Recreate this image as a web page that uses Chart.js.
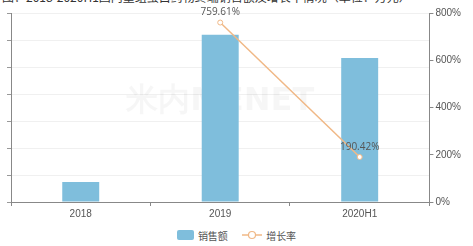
<!DOCTYPE html>
<html>
<head>
<meta charset="utf-8">
<script src="https://cdn.jsdelivr.net/npm/chart.js@4.4.1/dist/chart.umd.min.js"></script>
<style>
    html, body { margin: 0; padding: 0; background: #fff; }
    body { width: 473px; height: 246px; position: relative; overflow: hidden; font-family: "Noto Sans CJK SC", "Noto Sans", sans-serif; }
    #titulo { position: absolute; left: 2px; top: -12px; font-size: 12px; color: #333; white-space: nowrap; }
    #box { position: absolute; left: 0; top: 0; width: 473px; height: 222px; }
    #legenda { position: absolute; top: 226px; left: 0; width: 473px; text-align: center; font-size: 10px; color: #555; }
    #legenda span { display: inline-block; vertical-align: middle; }
    .caixa { width: 17px; height: 10px; background: #7fbedc; border-radius: 2px; margin-right: 4px; }
</style>
</head>
<body>
<div id="titulo">图：2018-2020H1国内重组蛋白药物终端销售额及增长率情况（单位：万元）</div>
<div id="box"><canvas id="grafico"></canvas></div>
<div id="legenda">
    <span class="caixa"></span><span>销售额</span>
    <span style="margin-left:12px;margin-right:4px;">
        <svg width="20" height="10"><line x1="0" y1="5" x2="20" y2="5" stroke="#f0b886" stroke-width="1.5"/><circle cx="10" cy="5" r="3.5" fill="#fff" stroke="#f0b886" stroke-width="1.2"/></svg>
    </span><span>增长率</span>
</div>
<script>
// ========== dados ==========
const anos = ['2018', '2019', '2020H1'];
const vendas = [0.74, 6.19, 5.33];
const crescimento = [null, 759.61, 190.42];

// marca d'agua e rótulos da linha
const rotulos = {
    id: 'rotulos',
    beforeDatasetsDraw(chart) {
        const { ctx, chartArea } = chart;
        ctx.save();
        ctx.fillStyle = 'rgba(0,0,0,0.035)';
        ctx.font = 'bold 32px "DejaVu Sans", sans-serif';
        ctx.textAlign = 'center';
        ctx.textBaseline = 'middle';
        ctx.fillText('米内MENET', (chartArea.left + chartArea.right) / 2, 102);
        ctx.restore();
    },
    afterDatasetsDraw(chart) {
        const { ctx } = chart;
        const meta = chart.getDatasetMeta(1);
        ctx.save();
        ctx.fillStyle = '#555';
        ctx.font = '10px "Open Sans", sans-serif';
        ctx.textAlign = 'center';
        ctx.textBaseline = 'bottom';
        meta.data.forEach((p, i) => {
            if (crescimento[i] == null) return;
            ctx.fillText(crescimento[i].toFixed(2) + '%', p.x, p.y - 5);
        });
        ctx.restore();
    }
};

new Chart(document.getElementById('grafico').getContext('2d'), {
    type: 'bar',
    data: {
        labels: anos,
        datasets: [{
            label: '销售额',
            data: vendas,
            backgroundColor: '#7fbedc',
            barPercentage: 0.265,
            categoryPercentage: 1,
            yAxisID: 'y',
            order: 2
        }, {
            type: 'line',
            label: '增长率',
            data: crescimento,
            borderColor: '#f0b886',
            borderWidth: 1.5,
            pointRadius: 2.5,
            pointBackgroundColor: '#fff',
            pointBorderColor: '#f0b886',
            pointBorderWidth: 1,
            yAxisID: 'y1',
            order: 1
        }]
    },
    options: {
        responsive: true,
        maintainAspectRatio: false,
        animation: false,
        layout: { padding: { left: 7, right: 10, top: 13, bottom: 0 } },
        plugins: {
            legend: { display: false },
            tooltip: { enabled: false }
        },
        scales: {
            x: {
                offset: true,
                grid: { display: true, drawOnChartArea: false, offset: true, color: '#888', tickLength: 4 },
                border: { color: '#888' },
                ticks: { color: '#555', font: { size: 10 }, padding: 2 }
            },
            y: {
                position: 'left',
                min: 0,
                max: 7,
                ticks: { stepSize: 1, display: false },
                grid: { color: '#f0f0f0', tickColor: '#999', tickLength: 4 },
                border: { color: '#888' }
            },
            y1: {
                position: 'right',
                min: 0,
                max: 800,
                ticks: {
                    stepSize: 200,
                    color: '#555',
                    font: { size: 10 },
                    padding: 2,
                    callback: function(v) { return v + '%'; }
                },
                grid: { drawOnChartArea: false, color: '#888', tickLength: 4 },
                border: { color: '#888' }
            }
        }
    },
    plugins: [rotulos]
});
</script>
</body>
</html>
